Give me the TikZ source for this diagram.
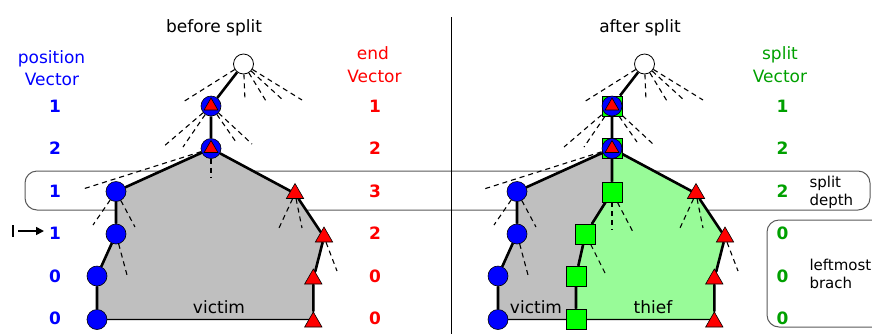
\documentclass[tikz,border=0pt]{standalone}
\usepackage{fontspec}
\setmainfont{DejaVu Sans}
\usetikzlibrary{shapes.geometric,arrows.meta}
\pgfdeclarelayer{bg}
\pgfdeclarelayer{mid}
\pgfsetlayers{bg,mid,main}
\definecolor{vblue}{RGB}{0,0,255}
\definecolor{ered}{RGB}{255,0,0}
\definecolor{sqgreen}{RGB}{0,255,0}
\definecolor{txtgreen}{RGB}{0,160,0}
\definecolor{victimgray}{RGB}{191,191,191}
\definecolor{thiefgreen}{RGB}{152,251,152}
\tikzset{
  treeedge/.style={line width=2.6pt},
  sibling/.style={line width=1.1pt, dash pattern=on 5pt off 4pt},
  rootnode/.style={circle, draw=black, fill=white, line width=0.8pt, minimum size=20pt, inner sep=0pt},
  posnode/.style={circle, draw=black, fill=vblue, line width=0.6pt, minimum size=20pt, inner sep=0pt},
  endnode/.style={regular polygon, regular polygon sides=3, draw=black, fill=ered, line width=0.6pt, minimum size=20pt, inner sep=0pt},
  innerend/.style={endnode, minimum size=16pt},
  splitnode/.style={rectangle, draw=black, fill=sqgreen, line width=0.8pt, minimum size=20pt, inner sep=0pt},
  bandbox/.style={draw=black!65, line width=1pt, rounded corners=12pt},
  area/.style={draw=black, line width=1.4pt, line join=round},
  num/.style={font=\fontsize{17}{20}\selectfont\bfseries, anchor=base},
  lbl/.style={anchor=base},
  note/.style={anchor=base west, font=\fontsize{15}{18}\selectfont},
}
\begin{document}
\begin{tikzpicture}[x=1pt,y=-1pt,font=\fontsize{17}{20}\selectfont]
\useasboundingbox (0,0) rectangle (872,333);

% ---------- positions: before split ----------
\coordinate (r)  at (243.5,64);
\coordinate (a)  at (211,106);
\coordinate (b)  at (211,148.5);
\coordinate (c1) at (116,191.5);
\coordinate (c2) at (116,234);
\coordinate (c3) at (97,276);
\coordinate (c4) at (97,319.5);
\coordinate (t1) at (295,193.5);
\coordinate (t2) at (324,237);
\coordinate (t3) at (313.3,279);
\coordinate (t4) at (313.3,322);
% ---------- positions: after split ----------
\coordinate (R)  at (644.5,64);
\coordinate (A)  at (612,106);
\coordinate (B)  at (612,148.5);
\coordinate (C1) at (517,191.5);
\coordinate (C2) at (517,234);
\coordinate (C3) at (498,276);
\coordinate (C4) at (498,319.5);
\coordinate (T1) at (696,193.5);
\coordinate (T2) at (725,237);
\coordinate (T3) at (714.3,279);
\coordinate (T4) at (714.3,322);
\coordinate (S1) at (612,192);
\coordinate (S2) at (585.5,234);
\coordinate (S3) at (576,276);
\coordinate (S4) at (576,319);

% ---------- frames and divider ----------
\begin{pgfonlayer}{bg}
  \draw[bandbox] (25,171) rectangle (870,210);
  \draw[bandbox] (767,220) rectangle (895,327);
  \draw[line width=1pt] (451,17) -- (451,340);
  % victim area before split
  \filldraw[area, fill=victimgray] (b) -- (c1) -- (c2) -- (c3) -- (c4)
     -- (c4 -| t4) -- (t3) -- (t2) -- (t1) -- cycle;
  % victim and thief areas after split
  \filldraw[area, fill=victimgray] (B) -- (C1) -- (C2) -- (C3) -- (C4)
     -- (C4 -| S4) -- (S3) -- (S2) -- (S1) -- cycle;
  \filldraw[area, fill=thiefgreen] (B) -- (S1) -- (S2) -- (S3) -- (S4 |- C4)
     -- (C4 -| T4) -- (T3) -- (T2) -- (T1) -- cycle;
\end{pgfonlayer}

% ---------- tree nodes: before split ----------
\node[rootnode] (nr) at (r) {};
\node[posnode] (na) at (a) {};
\node[innerend] (naE) at (a) {};
\node[posnode] (nb) at (b) {};
\node[innerend] (nbE) at (b) {};
\node[posnode] (nc1) at (c1) {};
\node[posnode] (nc2) at (c2) {};
\node[posnode] (nc3) at (c3) {};
\node[posnode] (nc4) at (c4) {};
\node[endnode] (nt1) at (t1) {};
\node[endnode] (nt2) at (t2) {};
\node[endnode] (nt3) at (t3) {};
\node[endnode] (nt4) at (t4) {};

% ---------- tree nodes: after split ----------
\node[rootnode] (mr) at (R) {};
\node[splitnode] (ma) at (A) {};
\node[posnode] (maP) at (A) {};
\node[innerend] (maE) at (A) {};
\node[splitnode] (mb) at (B) {};
\node[posnode] (mbP) at (B) {};
\node[innerend] (mbE) at (B) {};
\node[posnode] (mc1) at (C1) {};
\node[posnode] (mc2) at (C2) {};
\node[posnode] (mc3) at (C3) {};
\node[posnode] (mc4) at (C4) {};
\node[endnode] (mt1) at (T1) {};
\node[endnode] (mt2) at (T2) {};
\node[endnode] (mt3) at (T3) {};
\node[endnode] (mt4) at (T4) {};
\node[splitnode] (ms1) at (S1) {};
\node[splitnode] (ms2) at (S2) {};
\node[splitnode] (ms3) at (S3) {};
\node[splitnode] (ms4) at (S4) {};

\begin{pgfonlayer}{mid}
  % tree edges
  \draw[treeedge] (nr) -- (na) -- (nb);
  \draw[treeedge] (nb) -- (nc1) -- (nc2) -- (nc3) -- (nc4);
  \draw[treeedge] (nb) -- (nt1) -- (nt2) -- (nt3) -- (nt4);
  \draw[treeedge] (mr) -- (ma) -- (mb);
  \draw[treeedge] (mb) -- (mc1) -- (mc2) -- (mc3) -- (mc4);
  \draw[treeedge] (mb) -- (ms1) -- (ms2) -- (ms3) -- (ms4);
  \draw[treeedge] (mb) -- (mt1) -- (mt2) -- (mt3) -- (mt4);
  % unexplored siblings, before split
  \foreach \d in {(-60.5,38),(1.5,37),(22.5,37),(40.5,37),(58.5,36)}
    \draw[sibling] (nr) -- +\d;
  \foreach \d in {(-48,41),(-28,41),(25,36),(41,38)}
    \draw[sibling] (na) -- +\d;
  \draw[sibling] (nb) -- +(-128,40.5);
  \draw[sibling] (nb) -- +(0,29.5);
  \draw[sibling] (nc1) -- +(-23,33.5);
  \draw[sibling] (nc1) -- +(19,35.5);
  \draw[sibling] (nc2) -- +(11,41);
  \draw[sibling] (nt1) -- +(-16,34.5);
  \draw[sibling] (nt1) -- +(7,34.5);
  \draw[sibling] (nt2) -- +(13,34);
  % unexplored siblings, after split
  \foreach \d in {(-60.5,38),(1.5,37),(22.5,37),(40.5,37),(58.5,36)}
    \draw[sibling] (mr) -- +\d;
  \foreach \d in {(-48,41),(-28,41),(25,36),(41,38)}
    \draw[sibling] (ma) -- +\d;
  \draw[sibling] (mb) -- +(-128,40.5);
  \draw[sibling] (mc1) -- +(-23,33.5);
  \draw[sibling] (mc1) -- +(19,35.5);
  \draw[sibling] (mc2) -- +(11,41);
  \draw[sibling] (mt1) -- +(-16,34.5);
  \draw[sibling] (mt1) -- +(7,34.5);
  \draw[sibling] (mt2) -- +(13,34);
  \draw[sibling] (ms1) -- +(0,38);
  \draw[sibling] (ms1) -- +(21,40);
  \draw[sibling] (ms2) -- +(19.5,39);
\end{pgfonlayer}

% ---------- headings ----------
\node[lbl] (hb) at (214,32) {before split};
\node[lbl] (ha) at (640,32) {after split};
\node[lbl, text=vblue] (pv1) at (51.5,63) {position};
\node[lbl, text=vblue] (pv2) at (52,85) {Vector};
\node[lbl, text=ered] (ev1) at (373,59) {end};
\node[lbl, text=ered] (ev2) at (374.5,82) {Vector};
\node[lbl, text=txtgreen] (sv1) at (780,59) {split};
\node[lbl, text=txtgreen] (sv2) at (780,82) {Vector};

% ---------- vectors ----------
\foreach \y/\p/\e/\s [count=\i] in {112/1/1/1,154/2/2/2,197/1/3/2,239/1/2/0,282/0/0/0,324/0/0/0}{
  \node[num, text=vblue] (pos\i) at (55,\y) {\p};
  \node[num, text=ered] (end\i) at (375,\y) {\e};
  \node[num, text=txtgreen] (spl\i) at (782.5,\y) {\s};
}

% ---------- side notes ----------
\node[note] (sd1) at (806,187) {split};
\node[note] (sd2) at (806,205) {depth};
\node[note] (lb1) at (806,270) {leftmost};
\node[note] (lb2) at (806,288) {brach};

% ---------- area labels ----------
\node[lbl] (vl) at (219,313) {victim};
\node[lbl] (vr) at (536,313) {victim};
\node[lbl] (th) at (653,313) {thief};

% ---------- cursor arrow ----------
\coordinate (barT) at (12.7,225);
\coordinate (barB) at (12.7,237);
\coordinate (arrS) at (18,231);
\coordinate (arrE) at (44,231);
\draw[line width=1.6pt] (barT) -- (barB);
\draw[line width=1.6pt, -{Triangle[length=8pt,width=8pt]}] (arrS) -- (arrE);
\end{tikzpicture}
\end{document}
